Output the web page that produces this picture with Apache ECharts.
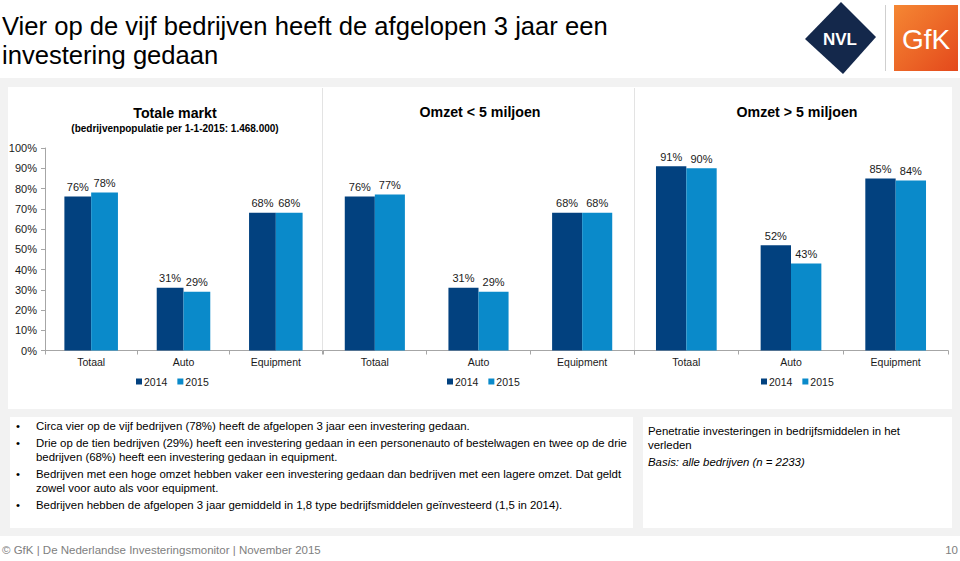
<!DOCTYPE html>
<html>
<head>
<meta charset="utf-8">
<script src="https://cdn.jsdelivr.net/npm/echarts@6/dist/echarts.min.js"></script>
<style>
html,body{margin:0;padding:0;background:#fff;}
#chart{width:960px;height:561px;}
</style>
</head>
<body>
<div id="chart"></div>
<script>
// ---- data ----
const categories = ['Totaal', 'Auto', 'Equipment'];
const years = ['2014', '2015'];
const panelTitles = ['Totale markt', 'Omzet < 5 miljoen', 'Omzet > 5 miljoen'];
const panelSubtitle = '(bedrijvenpopulatie per 1-1-2015: 1.468.000)';
const totaleMarkt2014 = [76, 31, 68];
const totaleMarkt2015 = [78, 29, 68];
const omzetKlein2014 = [76, 31, 68];
const omzetKlein2015 = [77, 29, 68];
const omzetGroot2014 = [91, 52, 85];
const omzetGroot2015 = [90, 43, 84];
const yMin = 0, yMax = 100, yStep = 10;

const mainTitle = 'Vier op de vijf bedrijven heeft de afgelopen 3 jaar een\ninvestering gedaan';
const bullets = [
  'Circa vier op de vijf bedrijven (78%) heeft de afgelopen 3 jaar een investering gedaan.',
  'Drie op de tien bedrijven (29%) heeft een investering gedaan in een personenauto of bestelwagen en twee op de drie\nbedrijven (68%) heeft een investering gedaan in equipment.',
  'Bedrijven met een hoge omzet hebben vaker een investering gedaan dan bedrijven met een lagere omzet. Dat geldt\nzowel voor auto als voor equipment.',
  'Bedrijven hebben de afgelopen 3 jaar gemiddeld in 1,8 type bedrijfsmiddelen geïnvesteerd (1,5 in 2014).'
];
const noteText = 'Penetratie investeringen in bedrijfsmiddelen in het\nverleden';
const basisText = 'Basis: alle bedrijven (n = 2233)';
const footerText = '© GfK | De Nederlandse Investeringsmonitor | November 2015';
const pageNumber = '10';

// ---- styles ----
const FONT = '"Liberation Sans", Arial, sans-serif';
const DARK = '#02417F';
const LIGHT = '#0A8ACA';
const AXIS = '#a6a6a6';
const TXT = '#1a1a1a';

const panelData = [
  [totaleMarkt2014, totaleMarkt2015],
  [omzetKlein2014, omzetKlein2015],
  [omzetGroot2014, omzetGroot2015]
];
const grids = [
  {left: 45, width: 277},
  {left: 323, width: 311},
  {left: 634, width: 314}
];
const panelCenters = [175, 480, 797];
const legendLefts = [136, 447, 761];

const chart = echarts.init(document.getElementById('chart'), null, {renderer: 'svg'});

const series = [];
panelData.forEach((pair, gi) => {
  pair.forEach((vals, si) => {
    series.push({
      type: 'bar',
      name: years[si],
      xAxisIndex: gi,
      yAxisIndex: gi,
      data: vals,
      barGap: '0%',
      barCategoryGap: '42%',
      itemStyle: {color: si === 0 ? DARK : LIGHT},
      label: {
        show: true, position: 'top', distance: 4,
        formatter: '{c}%', fontSize: 11, fontFamily: FONT, color: TXT
      },
      emphasis: {disabled: true},
      z: 5
    });
  });
});

const graphic = [
  {type: 'rect', shape: {x: 0, y: 78, width: 960, height: 458}, style: {fill: '#f2f2f2'}, z: -100, silent: true},
  {type: 'rect', shape: {x: 8, y: 87, width: 944, height: 322}, style: {fill: '#ffffff'}, z: -90, silent: true},
  {type: 'line', shape: {x1: 322.5, y1: 88, x2: 322.5, y2: 350}, style: {stroke: '#e3e3e3', lineWidth: 1}, z: -80, silent: true},
  {type: 'line', shape: {x1: 634.5, y1: 88, x2: 634.5, y2: 350}, style: {stroke: '#e3e3e3', lineWidth: 1}, z: -80, silent: true},
  {type: 'rect', shape: {x: 10, y: 417, width: 623, height: 111}, style: {fill: '#ffffff'}, z: -90, silent: true},
  {type: 'rect', shape: {x: 643, y: 417, width: 309, height: 111}, style: {fill: '#ffffff'}, z: -90, silent: true},
  // logos
  {type: 'polygon', shape: {points: [[805, 39], [841, 2], [876, 37], [843, 74]]}, style: {fill: '#14284B'}, z: 10, silent: true},
  {type: 'text', style: {text: 'NVL', x: 840, y: 39, textAlign: 'center', textVerticalAlign: 'middle', fill: '#ffffff', font: 'bold 17px ' + FONT}, z: 11, silent: true},
  {type: 'line', shape: {x1: 885.5, y1: 5, x2: 885.5, y2: 71}, style: {stroke: '#cfcfcf', lineWidth: 1}, z: 10, silent: true},
  {type: 'rect', shape: {x: 894, y: 5, width: 64, height: 66},
    style: {fill: new echarts.graphic.LinearGradient(0, 0, 1, 1, [{offset: 0, color: '#F58733'}, {offset: 1, color: '#E4491C'}])}, z: 10, silent: true},
  {type: 'text', style: {text: 'GfK', x: 926, y: 39, textAlign: 'center', textVerticalAlign: 'middle', fill: '#ffffff', font: '28px ' + FONT}, z: 11, silent: true},
  // main title
  {type: 'text', style: {text: mainTitle, x: 2, y: 11, textAlign: 'left', textVerticalAlign: 'top', fill: '#000000', font: '25.6px ' + FONT, lineHeight: 29}, z: 10, silent: true},
  // panel titles
  {type: 'text', style: {text: panelTitles[0], x: panelCenters[0], y: 113, textAlign: 'center', textVerticalAlign: 'middle', fill: '#000', font: 'bold 14.2px ' + FONT}, z: 10, silent: true},
  {type: 'text', style: {text: panelSubtitle, x: panelCenters[0], y: 128, textAlign: 'center', textVerticalAlign: 'middle', fill: '#000', font: 'bold 10px ' + FONT}, z: 10, silent: true},
  {type: 'text', style: {text: panelTitles[1], x: panelCenters[1], y: 112, textAlign: 'center', textVerticalAlign: 'middle', fill: '#000', font: 'bold 14.2px ' + FONT}, z: 10, silent: true},
  {type: 'text', style: {text: panelTitles[2], x: panelCenters[2], y: 112, textAlign: 'center', textVerticalAlign: 'middle', fill: '#000', font: 'bold 14.2px ' + FONT}, z: 10, silent: true},
  // footer
  {type: 'text', style: {text: footerText, x: 2, y: 550, textAlign: 'left', textVerticalAlign: 'middle', fill: '#808080', font: '11.5px ' + FONT}, z: 10, silent: true},
  {type: 'text', style: {text: pageNumber, x: 958, y: 550, textAlign: 'right', textVerticalAlign: 'middle', fill: '#808080', font: '11.5px ' + FONT}, z: 10, silent: true},
  // note box
  {type: 'text', style: {text: noteText, x: 648, y: 424, textAlign: 'left', textVerticalAlign: 'top', fill: '#000', font: '11.4px ' + FONT, lineHeight: 14}, z: 10, silent: true},
  {type: 'text', style: {text: basisText, x: 648, y: 455, textAlign: 'left', textVerticalAlign: 'top', fill: '#000', font: 'italic 11.4px ' + FONT, lineHeight: 14}, z: 10, silent: true}
];
const bulletTops = [419, 436, 467, 498];
bullets.forEach((b, i) => {
  graphic.push({type: 'text', style: {text: '•', x: 16, y: bulletTops[i], textAlign: 'left', textVerticalAlign: 'top', fill: '#000', font: '11.4px ' + FONT, lineHeight: 14}, z: 10, silent: true});
  graphic.push({type: 'text', style: {text: b, x: 36, y: bulletTops[i], textAlign: 'left', textVerticalAlign: 'top', fill: '#000', font: '11.4px ' + FONT, lineHeight: 14}, z: 10, silent: true});
});

const option = {
  animation: false,
  backgroundColor: '#ffffff',
  textStyle: {fontFamily: FONT},
  grid: grids.map(g => ({left: g.left, width: g.width, top: 148, bottom: 210.5, containLabel: false})),
  xAxis: grids.map((g, i) => ({
    type: 'category', gridIndex: i, data: categories,
    axisLine: {show: true, lineStyle: {color: AXIS, width: 1}},
    axisTick: {show: true, length: 4, lineStyle: {color: AXIS}},
    axisLabel: {fontSize: 10.5, color: TXT, fontFamily: FONT, margin: 6},
    splitLine: {show: false}
  })),
  yAxis: grids.map((g, i) => ({
    type: 'value', gridIndex: i, min: yMin, max: yMax, interval: yStep,
    show: i === 0,
    axisLine: {show: true, lineStyle: {color: AXIS, width: 1}},
    axisTick: {show: true, length: 4, lineStyle: {color: AXIS}},
    axisLabel: {formatter: '{value}%', fontSize: 11, color: TXT, fontFamily: FONT, margin: 8},
    splitLine: {show: false}
  })),
  legend: legendLefts.map(l => ({
    data: years, left: l, top: 376, orient: 'horizontal',
    itemWidth: 6, itemHeight: 6, itemGap: 10, icon: 'rect', padding: 0,
    textStyle: {fontSize: 10.5, color: TXT, fontFamily: FONT, padding: [0, 0, 0, -3]},
    selectedMode: false
  })),
  series: series,
  graphic: graphic
};
chart.setOption(option);
</script>
</body>
</html>
